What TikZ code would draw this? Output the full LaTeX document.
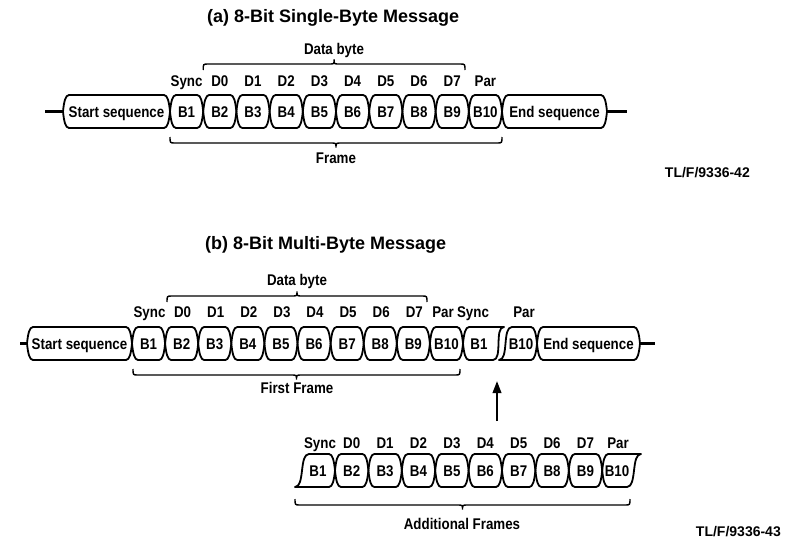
\documentclass[tikz,border=0pt]{standalone}
\usepackage{fontspec}
\setmainfont{Liberation Sans}
\newfontfamily\condfont{Liberation Sans}[FakeStretch=0.86]
\usetikzlibrary{arrows.meta}
\tikzset{
  boxline/.style={line width=1.8pt, line join=round},
  lbl/.style={font=\condfont\bfseries\fontsize{15.5}{17}\selectfont, inner sep=0pt, anchor=base},
  boxtxt/.style={font=\condfont\bfseries\fontsize{15.5}{17}\selectfont, inner sep=0pt, anchor=base},
  bracel/.style={line width=1.4pt},
  ttl/.style={font=\bfseries\fontsize{18}{20}\selectfont, inner sep=0pt, anchor=base west},
  lead/.style={line width=2.2pt},
  tlf/.style={font=\bfseries\fontsize{14}{16}\selectfont, inner sep=0pt, anchor=base east},
}
% name, xl, xr, yc, text
\newcommand\hexbox[5]{%
  \draw[boxline] (#2,#4) .. controls ({#2+1},{#4-10}) and ({#2+2.5},{#4-16.5}) .. ({#2+6},{#4-16.5})
    -- ({#3-6},{#4-16.5}) .. controls ({#3-2.5},{#4-16.5}) and ({#3-1},{#4-10}) .. (#3,#4)
    .. controls ({#3-1},{#4+10}) and ({#3-2.5},{#4+16.5}) .. ({#3-6},{#4+16.5})
    -- ({#2+6},{#4+16.5}) .. controls ({#2+2.5},{#4+16.5}) and ({#2+1},{#4+10}) .. (#2,#4) -- cycle;
  \node[boxtxt] (#1) at ({(#2+#3)/2},{#4+5.5}) {#5};
}
% x1, x2, yline, dir (+1 ends down / tip up, -1 ends up / tip down)
\newcommand\hbr[4]{%
  \pgfmathsetmacro\bxm{(#1+#2)/2}
  \draw[bracel] (#1,{#3+6*(#4)}) .. controls (#1,#3) .. ({#1+5},#3) -- ({\bxm-5},#3)
    .. controls (\bxm,#3) .. (\bxm,{#3-4.5*(#4)}) .. controls (\bxm,#3) .. ({\bxm+5},#3)
    -- ({#2-5},#3) .. controls (#2,#3) .. (#2,{#3+6*(#4)});
}
\begin{document}
\begin{tikzpicture}[x=1pt,y=-1pt]
\useasboundingbox (0,0) rectangle (788,544);

% ---------------- (a) ----------------
\node[ttl] (ttla) at (207,22) {(a) 8-Bit Single-Byte Message};
\coordinate (aL) at (45,111.5);
\coordinate (aR) at (627,111.5);
\hexbox{aStart}{63}{170}{111.5}{Start sequence}
\foreach \i/\t in {0/B1,1/B2,2/B3,3/B4,4/B5,5/B6,6/B7,7/B8,8/B9,9/B10}{
  \pgfmathsetmacro\xl{170+33.2*\i}
  \pgfmathsetmacro\xr{\xl+33.2}
  \hexbox{a\t}{\xl}{\xr}{111.5}{\t}
}
\hexbox{aEnd}{502}{607}{111.5}{End sequence}
\draw[lead] (aL) -- (63,111.5);
\draw[lead] (607,111.5) -- (aR);
\foreach \i/\t in {0/Sync,1/D0,2/D1,3/D2,4/D3,5/D4,6/D5,7/D6,8/D7,9/Par}{
  \node[lbl] (la\i) at ({186.6+33.2*\i},86) {\t};
}
\hbr{203.2}{465}{64}{1}
\node[lbl] (adb) at (334,54) {Data byte};
\hbr{170}{502}{143}{-1}
\node[lbl] (afr) at (336,163) {Frame};
\node[tlf] (tla) at (750,177) {TL/F/9336-42};

% ---------------- (b) ----------------
\node[ttl] (ttlb) at (205,249) {(b) 8-Bit Multi-Byte Message};
\coordinate (bL) at (20,343.5);
\coordinate (bR) at (655,343.5);
\hexbox{bStart}{27}{132}{343.5}{Start sequence}
\foreach \i/\t in {0/B1,1/B2,2/B3,3/B4,4/B5,5/B6,6/B7,7/B8,8/B9,9/B10}{
  \pgfmathsetmacro\xl{132+33.1*\i}
  \pgfmathsetmacro\xr{\xl+33.1}
  \hexbox{b\t}{\xl}{\xr}{343.5}{\t}
}
% B1 of next frame, cut off
\draw[boxline] (463,343.5) .. controls (464,333.5) and (465.5,327) .. (469,327) -- (504,327)
  .. controls (494,327) and (503,360) .. (493,360) -- (469,360)
  .. controls (465.5,360) and (464,353.5) .. (463,343.5) -- cycle;
\node[boxtxt] (bB1n) at (479,349) {B1};
% last B10, cut off on the left
\draw[boxline] (537,343.5) .. controls (536,333.5) and (534.5,327) .. (531,327) -- (512,327)
  .. controls (502,327) and (509,360) .. (499,360) -- (531,360)
  .. controls (534.5,360) and (536,353.5) .. (537,343.5) -- cycle;
\node[boxtxt] (bB10n) at (521,349) {B10};
\hexbox{bEnd}{537}{640}{343.5}{End sequence}
\draw[lead] (bL) -- (27,343.5);
\draw[lead] (640,343.5) -- (bR);
\foreach \i/\t in {0/Sync,1/D0,2/D1,3/D2,4/D3,5/D4,6/D5,7/D6,8/D7}{
  \node[lbl] (lb\i) at ({149.5+33.1*\i},317) {\t};
}
\node[lbl] (lb9) at (443,317) {Par};
\node[lbl] (lbs) at (473,317) {Sync};
\node[lbl] (lbp) at (524,317) {Par};
\hbr{167}{427}{296}{1}
\node[lbl] (bdb) at (297,285) {Data byte};
\hbr{133}{460}{375}{-1}
\node[lbl] (bff) at (297,393) {First Frame};

% ---------------- additional frames ----------------
\coordinate (arrT) at (497,421);
\coordinate (arrH) at (497,381);
\draw[line width=2.2pt, -{Triangle[length=12pt,width=8.5pt]}] (arrT) -- (arrH);
% B1 with cut-off left end
\draw[boxline] (335,470.5) .. controls (334,460.5) and (332.5,454) .. (329,454) -- (309,454)
  .. controls (299,454) and (305,487) .. (295,487) -- (329,487)
  .. controls (332.5,487) and (334,480.5) .. (335,470.5) -- cycle;
\node[boxtxt] (cB1) at (318,476) {B1};
\foreach \i/\t in {0/B2,1/B3,2/B4,3/B5,4/B6,5/B7,6/B8,7/B9}{
  \pgfmathsetmacro\xl{335+33.4*\i}
  \pgfmathsetmacro\xr{\xl+33.4}
  \hexbox{c\t}{\xl}{\xr}{470.5}{\t}
}
% B10 with cut-off right end
\draw[boxline] (602.2,470.5) .. controls (603.2,460.5) and (604.7,454) .. (608.2,454) -- (641,454)
  .. controls (631,454) and (637,487) .. (627,487) -- (608.2,487)
  .. controls (604.7,487) and (603.2,480.5) .. (602.2,470.5) -- cycle;
\node[boxtxt] (cB10) at (617,476) {B10};
\node[lbl] (lc0) at (320,448) {Sync};
\foreach \i/\t in {1/D0,2/D1,3/D2,4/D3,5/D4,6/D5,7/D6,8/D7}{
  \node[lbl] (lc\i) at ({335+33.4*(\i-1)+16.7},448) {\t};
}
\node[lbl] (lc9) at (618,448) {Par};
\hbr{295}{630}{505}{-1}
\node[lbl] (caf) at (462,529) {Additional Frames};
\node[tlf] (tlb) at (781,536) {TL/F/9336-43};
\end{tikzpicture}
\end{document}
